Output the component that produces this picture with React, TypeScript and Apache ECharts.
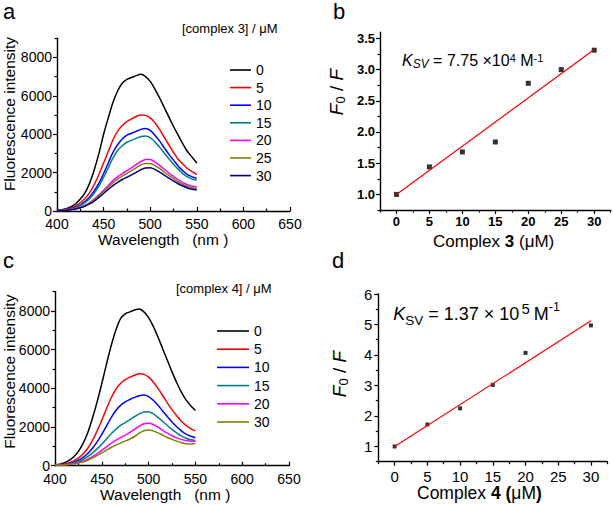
import React, { useEffect, useRef } from 'react';
import * as echarts from 'echarts';

const FONT = '"Liberation Sans", Arial, Helvetica, sans-serif';

// ---------- data ----------
const wavelengths = [400, 405, 410, 415, 420, 425, 430, 435, 440, 445, 450, 455, 460, 465, 470, 475, 480, 485, 490, 495, 500, 505, 510, 515, 520, 525, 530, 535, 540, 545, 550];

// panel a : [complex 3] / µM
const concA = ['0', '5', '10', '15', '20', '25', '30'];
const colorsA = ['#000000', '#ff0000', '#0000ff', '#008080', '#ff00ff', '#808000', '#000080'];
const specA0 = [30, 60, 120, 220, 380, 620, 950, 1450, 2150, 3000, 4000, 4850, 5650, 6250, 6650, 6850, 6950, 7050, 7120, 7000, 6750, 6350, 5900, 5400, 4900, 4400, 3950, 3500, 3100, 2800, 2500];
const specA5 = [30, 50, 90, 160, 270, 430, 650, 960, 1380, 1900, 2500, 3100, 3700, 4150, 4450, 4650, 4800, 4920, 5000, 4980, 4850, 4600, 4250, 3850, 3450, 3050, 2700, 2450, 2200, 2050, 1900];
const specA10 = [20, 40, 70, 120, 200, 320, 490, 730, 1050, 1450, 1950, 2500, 3050, 3450, 3750, 3950, 4050, 4150, 4250, 4300, 4200, 3950, 3650, 3300, 2950, 2650, 2350, 2100, 1900, 1780, 1700];
const specA15 = [20, 35, 65, 110, 180, 290, 440, 650, 940, 1300, 1750, 2250, 2750, 3150, 3400, 3580, 3680, 3780, 3880, 3900, 3820, 3600, 3330, 3020, 2720, 2440, 2180, 1950, 1780, 1660, 1600];
const specA20 = [20, 30, 50, 80, 130, 200, 300, 440, 620, 840, 1080, 1330, 1580, 1780, 1950, 2100, 2250, 2420, 2580, 2680, 2680, 2560, 2380, 2180, 1980, 1800, 1620, 1480, 1370, 1290, 1250];
const specA25 = [20, 30, 45, 75, 120, 185, 280, 410, 580, 790, 1010, 1240, 1470, 1660, 1820, 1960, 2100, 2250, 2400, 2480, 2480, 2380, 2220, 2030, 1850, 1680, 1520, 1390, 1280, 1210, 1170];
const specA30 = [20, 28, 40, 65, 105, 165, 250, 370, 520, 710, 910, 1120, 1320, 1490, 1640, 1760, 1880, 2010, 2150, 2240, 2250, 2170, 2030, 1870, 1710, 1560, 1420, 1300, 1200, 1130, 1100];
const spectraA = [specA0, specA5, specA10, specA15, specA20, specA25, specA30];

// panel c : [complex 4] / µM
const concC = ['0', '5', '10', '15', '20', '30'];
const colorsC = ['#000000', '#ff0000', '#0000ff', '#008080', '#ff00ff', '#808000'];
const specC0 = [40, 80, 150, 270, 460, 740, 1150, 1700, 2450, 3300, 4250, 5250, 6200, 7000, 7600, 7850, 7950, 8050, 8100, 7950, 7650, 7200, 6650, 6050, 5450, 4850, 4300, 3800, 3400, 3100, 2850];
const specC5 = [30, 50, 85, 150, 250, 400, 610, 900, 1300, 1800, 2350, 2950, 3500, 3950, 4250, 4450, 4580, 4680, 4750, 4720, 4580, 4330, 4000, 3630, 3250, 2900, 2580, 2300, 2080, 1920, 1800];
const specC10 = [25, 40, 65, 110, 180, 285, 430, 630, 900, 1230, 1620, 2050, 2480, 2850, 3120, 3300, 3420, 3530, 3620, 3650, 3570, 3380, 3120, 2830, 2540, 2260, 2010, 1800, 1630, 1520, 1450];
const specC15 = [20, 35, 55, 90, 145, 220, 330, 470, 650, 870, 1110, 1380, 1650, 1880, 2080, 2230, 2380, 2530, 2680, 2780, 2790, 2680, 2500, 2290, 2080, 1880, 1700, 1540, 1420, 1340, 1300];
const specC20 = [20, 30, 45, 70, 110, 165, 240, 340, 470, 620, 790, 970, 1150, 1310, 1450, 1580, 1720, 1880, 2050, 2170, 2200, 2130, 1990, 1830, 1680, 1550, 1440, 1360, 1300, 1270, 1270];
const specC30 = [15, 25, 40, 60, 95, 140, 200, 285, 390, 520, 660, 800, 940, 1060, 1170, 1270, 1380, 1510, 1680, 1810, 1850, 1800, 1700, 1580, 1460, 1360, 1270, 1190, 1140, 1120, 1150];
const spectraC = [specC0, specC5, specC10, specC15, specC20, specC30];

// panel b : Stern-Volmer, complex 3
const concB = [0, 5, 10, 15, 20, 25, 30];
const ratioB = [1.0, 1.44, 1.68, 1.84, 2.78, 3.0, 3.31];
const fitBx = [0, 30];
const fitBy = [1.0, 3.32];

// panel d : Stern-Volmer, complex 4
const concD = [0, 5, 10, 15, 20, 30];
const ratioD = [1.0, 1.72, 2.25, 3.02, 4.07, 4.97];
const fitDx = [0, 30];
const fitDy = [1.0, 5.12];

// tick values
const specXTicks = [400, 450, 500, 550, 600, 650];
const specXMinor = [425, 475, 525, 575, 625];
const specYTicks = [0, 2000, 4000, 6000, 8000];
const specYMinor = [1000, 3000, 5000, 7000, 9000];
const svXTicks = [0, 5, 10, 15, 20, 25, 30];
const svXMinor = [-2.5, 2.5, 7.5, 12.5, 17.5, 22.5, 27.5, 32.5];
const bYTicks = [1.0, 1.5, 2.0, 2.5, 3.0, 3.5];
const bYMinor = [0.75, 1.25, 1.75, 2.25, 2.75, 3.25];
const dYTicks = [1, 2, 3, 4, 5, 6];
const dYMinor = [0.5, 1.5, 2.5, 3.5, 4.5, 5.5];

// ---------- helpers ----------
function axisPair(dim: 'x' | 'y', gridIndex: number, min: number, max: number, majors: number[], minors: number[], inside: boolean, label: any) {
  const position = dim === 'x' ? 'bottom' : 'left';
  const lineStyle = { color: '#000', width: 1.2 };
  return [
    {
      type: 'value', gridIndex, min, max, position, offset: 0,
      axisLine: { show: true, onZero: false, lineStyle: { color: '#000', width: 1.4 } },
      axisTick: { show: true, inside, length: 4, customValues: majors, lineStyle },
      axisLabel: { show: true, customValues: majors, color: '#000', fontFamily: FONT, formatter: (v: number) => String(v), ...label },
      splitLine: { show: false },
      minorTick: { show: false },
    },
    {
      type: 'value', gridIndex, min, max, position, offset: 0,
      axisLine: { show: false, onZero: false },
      axisTick: { show: true, inside, length: 2.5, customValues: minors, lineStyle },
      axisLabel: { show: false },
      splitLine: { show: false },
    },
  ];
}

function txt(x: number, y: number, text: string, size: number, extra: any = {}, rotation = 0) {
  return {
    type: 'text', x, y, rotation, silent: true,
    style: {
      text, fill: '#000', fontFamily: FONT, fontSize: size,
      align: extra.align || 'left', verticalAlign: 'middle',
      ...extra,
    },
  };
}

export default function App() {
  const ref = useRef<HTMLDivElement>(null);

  useEffect(() => {
    if (!ref.current) return;
    const chart = echarts.init(ref.current, undefined, { renderer: 'svg' });

    const xA = axisPair('x', 0, 400, 650, specXTicks, specXMinor, true, { fontSize: 14, margin: 6 });
    const yA = axisPair('y', 0, 0, 9000, specYTicks, specYMinor, false, { fontSize: 14, margin: 5 });
    const xB = axisPair('x', 1, -2.5, 32.5, svXTicks, svXMinor, false, { fontSize: 13, fontWeight: 'bold', margin: 5 });
    const yB = axisPair('y', 1, 0.75, 3.6, bYTicks, bYMinor, false, { fontSize: 13, fontWeight: 'bold', margin: 5, formatter: (v: number) => v.toFixed(1) });
    const xC = axisPair('x', 2, 400, 650, specXTicks, specXMinor, true, { fontSize: 14, margin: 6 });
    const yC = axisPair('y', 2, 0, 9000, specYTicks, specYMinor, false, { fontSize: 14, margin: 5 });
    const xD = axisPair('x', 3, -2.5, 32.5, svXTicks, svXMinor, false, { fontSize: 15, margin: 7 });
    const yD = axisPair('y', 3, 0.5, 6, dYTicks, dYMinor, false, { fontSize: 15, margin: 6 });

    const series: any[] = [];
    spectraA.forEach((vals, i) => {
      series.push({
        type: 'line', name: 'a:' + concA[i], xAxisIndex: 0, yAxisIndex: 0,
        data: wavelengths.map((w, j) => [w, vals[j]]),
        symbol: 'none', smooth: 0.25, color: colorsA[i],
        lineStyle: { width: 1.5, color: colorsA[i] },
      });
    });
    spectraC.forEach((vals, i) => {
      series.push({
        type: 'line', name: 'c:' + concC[i], xAxisIndex: 4, yAxisIndex: 4,
        data: wavelengths.map((w, j) => [w, vals[j]]),
        symbol: 'none', smooth: 0.25, color: colorsC[i],
        lineStyle: { width: 1.5, color: colorsC[i] },
      });
    });
    series.push({
      type: 'scatter', name: 'b-points', xAxisIndex: 2, yAxisIndex: 2,
      data: concB.map((c, i) => [c, ratioB[i]]), symbol: 'rect', symbolSize: 5,
      itemStyle: { color: '#000' },
    });
    series.push({
      type: 'line', name: 'b-fit', xAxisIndex: 2, yAxisIndex: 2,
      data: fitBx.map((c, i) => [c, fitBy[i]]), symbol: 'none',
      lineStyle: { width: 1.2, color: '#ff0000' }, color: '#ff0000',
    });
    series.push({
      type: 'scatter', name: 'd-points', xAxisIndex: 6, yAxisIndex: 6,
      data: concD.map((c, i) => [c, ratioD[i]]), symbol: 'rect', symbolSize: 4,
      itemStyle: { color: '#000' },
    });
    series.push({
      type: 'line', name: 'd-fit', xAxisIndex: 6, yAxisIndex: 6,
      data: fitDx.map((c, i) => [c, fitDy[i]]), symbol: 'none',
      lineStyle: { width: 1.2, color: '#ff0000' }, color: '#ff0000',
    });

    const legendBase = {
      orient: 'vertical', padding: 0, itemHeight: 1.6, icon: 'rect', selectedMode: false,
      formatter: (n: string) => n.split(':')[1],
      textStyle: { fontSize: 14, color: '#000', fontFamily: FONT },
    };

    const kB = '{k|K}{s|SV}{n| = 7.75 ×10}{p|4}{n| M}{p|-1}';
    const kD = '{k|K}{s|SV}{n| = 1.37 × 10}{p|5}{n|M}{q|-1}';

    const graphic: any[] = [
      txt(3, 11.5, 'a', 22),
      txt(333, 11.5, 'b', 22),
      txt(3, 260.3, 'c', 22),
      txt(332, 260.3, 'd', 22),
      txt(182, 28.8, '[complex 3] / μM', 13),
      txt(176, 288, '[complex 4] / μM', 13),
      txt(9, 114, 'Fluorescence intensity', 15.5, { align: 'center' }, Math.PI / 2),
      txt(9, 371.7, 'Fluorescence intensity', 15.5, { align: 'center' }, Math.PI / 2),
      txt(98, 239.6, 'Wavelength   (nm )', 15.5),
      txt(100, 494.6, 'Wavelength   (nm )', 15.5),
      txt(336.5, 92, '{f|F}{s|0}{n| / }{f|F}', 19, {
        align: 'center',
        rich: {
          f: { fontStyle: 'italic', fontSize: 19, fontFamily: FONT, verticalAlign: 'middle' },
          s: { fontSize: 13, fontFamily: FONT, verticalAlign: 'middle', padding: [8, 0, 0, 0] },
          n: { fontSize: 19, fontFamily: FONT, verticalAlign: 'middle' },
        },
      }, Math.PI / 2),
      txt(339.5, 374, '{f|F}{s|0}{n| / }{f|F}', 19, {
        align: 'center',
        rich: {
          f: { fontStyle: 'italic', fontSize: 19, fontFamily: FONT, verticalAlign: 'middle' },
          s: { fontSize: 13, fontFamily: FONT, verticalAlign: 'middle', padding: [8, 0, 0, 0] },
          n: { fontSize: 19, fontFamily: FONT, verticalAlign: 'middle' },
        },
      }, Math.PI / 2),
      txt(433, 241, '{n|Complex }{b|3}{n| (μM)}', 17, {
        rich: {
          n: { fontSize: 17, fontFamily: FONT, verticalAlign: 'middle' },
          b: { fontSize: 17, fontFamily: FONT, fontWeight: 'bold', verticalAlign: 'middle' },
        },
      }),
      txt(417, 493, '{n|Complex }{b|4 (}{n|μM}{b|)}', 17.5, {
        rich: {
          n: { fontSize: 17.5, fontFamily: FONT, verticalAlign: 'middle' },
          b: { fontSize: 17.5, fontFamily: FONT, fontWeight: 'bold', verticalAlign: 'middle' },
        },
      }),
      txt(402, 60.1, kB, 16, {
        rich: {
          k: { fontSize: 16, fontStyle: 'italic', fontFamily: FONT, verticalAlign: 'middle' },
          s: { fontSize: 12, fontStyle: 'italic', fontFamily: FONT, verticalAlign: 'middle', padding: [7.8, 0, 0, 0] },
          n: { fontSize: 16, fontFamily: FONT, verticalAlign: 'middle' },
          p: { fontSize: 11, fontFamily: FONT, verticalAlign: 'middle', padding: [0, 0, 4.5, 0] },
        },
      }),
      txt(393.3, 313.5, kD, 18, {
        rich: {
          k: { fontSize: 18, fontStyle: 'italic', fontFamily: FONT, verticalAlign: 'middle' },
          s: { fontSize: 13.5, fontFamily: FONT, verticalAlign: 'middle', padding: [13, 0, 0, 0] },
          n: { fontSize: 18, fontFamily: FONT, verticalAlign: 'middle' },
          p: { fontSize: 15, fontFamily: FONT, verticalAlign: 'middle', padding: [0, 4, 11, 2] },
          q: { fontSize: 12.5, fontFamily: FONT, verticalAlign: 'middle', padding: [0, 0, 12.6, 0] },
        },
      }),
    ];

    chart.setOption({
      animation: false,
      backgroundColor: '#ffffff',
      grid: [
        { left: 57, top: 38.2, width: 233, height: 172.8, outerBoundsMode: 'none' },
        { left: 380, top: 32.1, width: 230.7, height: 177.9, outerBoundsMode: 'none' },
        { left: 55, top: 291.6, width: 234, height: 174.1, outerBoundsMode: 'none' },
        { left: 378.3, top: 294, width: 229, height: 167.7, outerBoundsMode: 'none' },
      ],
      xAxis: [...xA, ...xB, ...xC, ...xD],
      yAxis: [...yA, ...yB, ...yC, ...yD],
      legend: [
        { ...legendBase, data: concA.map((c) => 'a:' + c), left: 230, top: 63, itemWidth: 21, itemGap: 3.6 },
        { ...legendBase, data: concC.map((c) => 'c:' + c), left: 217, top: 324, itemWidth: 32, itemGap: 4.2 },
      ],
      series,
      graphic,
    });

    return () => chart.dispose();
  }, []);

  return (
    <div
      ref={ref}
      style={{ position: 'absolute', left: 0, top: 0, width: 613, height: 506, background: '#fff' }}
    />
  );
}
